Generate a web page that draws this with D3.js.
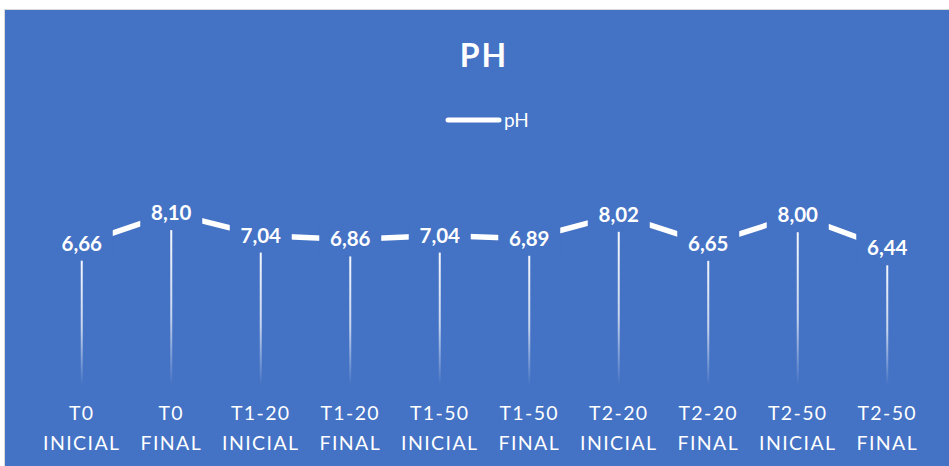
<!DOCTYPE html>
<html>
<head>
<meta charset="utf-8">
<script src="https://cdn.jsdelivr.net/npm/d3@7"></script>
<style>
  body { margin: 0; background: #fff; }
  svg { display: block; font-family: Lato, "Open Sans", sans-serif; }
</style>
</head>
<body>
<div id="chart"></div>
<script>
// pH por tratamento
var catTop = ["T0", "T0", "T1-20", "T1-20", "T1-50", "T1-50", "T2-20", "T2-20", "T2-50", "T2-50"];
var catBottom = ["INICIAL", "FINAL", "INICIAL", "FINAL", "INICIAL", "FINAL", "INICIAL", "FINAL", "INICIAL", "FINAL"];
var phValues = [6.66, 8.10, 7.04, 6.86, 7.04, 6.89, 8.02, 6.65, 8.00, 6.44];
var seriesName = "pH";
var chartTitle = "PH";

var width = 949, height = 466;
var blue = "#4472C4";

var svg = d3.select("#chart").append("svg")
    .attr("width", width)
    .attr("height", height);

// background of the chart area
svg.append("rect")
    .attr("x", 4.5).attr("y", 9.5)
    .attr("width", width).attr("height", height)
    .attr("fill", blue)
    .attr("stroke", "#d9d9d9");

var data = phValues.map(function (v, i) {
  return { key: i, top: catTop[i], bottom: catBottom[i], value: v };
});

// scales
var x = d3.scaleBand()
    .domain(data.map(function (d) { return d.key; }))
    .range([37, 932]);

var y = d3.scaleLinear()
    .domain([0, 9])
    .range([385, 194]);

function cx(d) { return x(d.key) + x.bandwidth() / 2; }

// gradient for drop lines
var defs = svg.append("defs");
var grad = defs.append("linearGradient")
    .attr("id", "dropGrad")
    .attr("x1", 0).attr("y1", 0).attr("x2", 0).attr("y2", 1);
grad.append("stop").attr("offset", "0%").attr("stop-color", "#fff").attr("stop-opacity", 1);
grad.append("stop").attr("offset", "60%").attr("stop-color", "#fff").attr("stop-opacity", 0.7);
grad.append("stop").attr("offset", "100%").attr("stop-color", "#fff").attr("stop-opacity", 0);

// title
svg.append("text")
    .attr("x", 484).attr("y", 67)
    .attr("text-anchor", "middle")
    .attr("fill", "#fff")
    .attr("font-size", 32)
    .attr("font-weight", "bold")
    .attr("letter-spacing", 2)
    .text(chartTitle);

// legend
var legend = svg.append("g").attr("transform", "translate(448,120)");
legend.append("line")
    .attr("x1", 0).attr("x2", 51).attr("y1", 0).attr("y2", 0)
    .attr("stroke", "#fff").attr("stroke-width", 5)
    .attr("stroke-linecap", "round");
legend.append("text")
    .attr("x", 56).attr("y", 7)
    .attr("fill", "#fff")
    .attr("font-size", 19)
    .text(seriesName);

// drop lines
svg.append("g").selectAll("rect")
    .data(data)
    .enter().append("rect")
    .attr("x", function (d) { return cx(d) - 1; })
    .attr("y", function (d) { return y(d.value); })
    .attr("width", 2)
    .attr("height", function (d) { return y(0) - y(d.value); })
    .attr("fill", "url(#dropGrad)");

// line
var line = d3.line()
    .x(cx)
    .y(function (d) { return y(d.value); });

svg.append("path")
    .datum(data)
    .attr("d", line)
    .attr("fill", "none")
    .attr("stroke", "#fff")
    .attr("stroke-width", 5.5)
    .attr("stroke-linejoin", "round");

// data labels, with a background that hides the line beneath
var fmt = function (v) { return d3.format(".2f")(v).replace(".", ","); };
var labels = svg.append("g").selectAll("g")
    .data(data)
    .enter().append("g")
    .attr("transform", function (d) { return "translate(" + cx(d) + "," + y(d.value) + ")"; });

labels.append("rect")
    .attr("x", -31).attr("y", -17)
    .attr("width", 62).attr("height", 34)
    .attr("fill", blue);

labels.append("text")
    .attr("text-anchor", "middle")
    .attr("y", 7)
    .attr("fill", "#fff")
    .attr("font-size", 20.5)
    .attr("font-weight", "bold")
    .text(function (d) { return fmt(d.value); });

// x axis labels
var xl = svg.append("g").selectAll("text")
    .data(data)
    .enter().append("text")
    .attr("text-anchor", "middle")
    .attr("fill", "#fff")
    .attr("font-size", 19.5)
    .attr("letter-spacing", 1.4);

xl.append("tspan")
    .attr("x", cx).attr("y", 420)
    .text(function (d) { return d.top; });
xl.append("tspan")
    .attr("x", cx).attr("y", 450)
    .text(function (d) { return d.bottom; });
</script>
</body>
</html>
